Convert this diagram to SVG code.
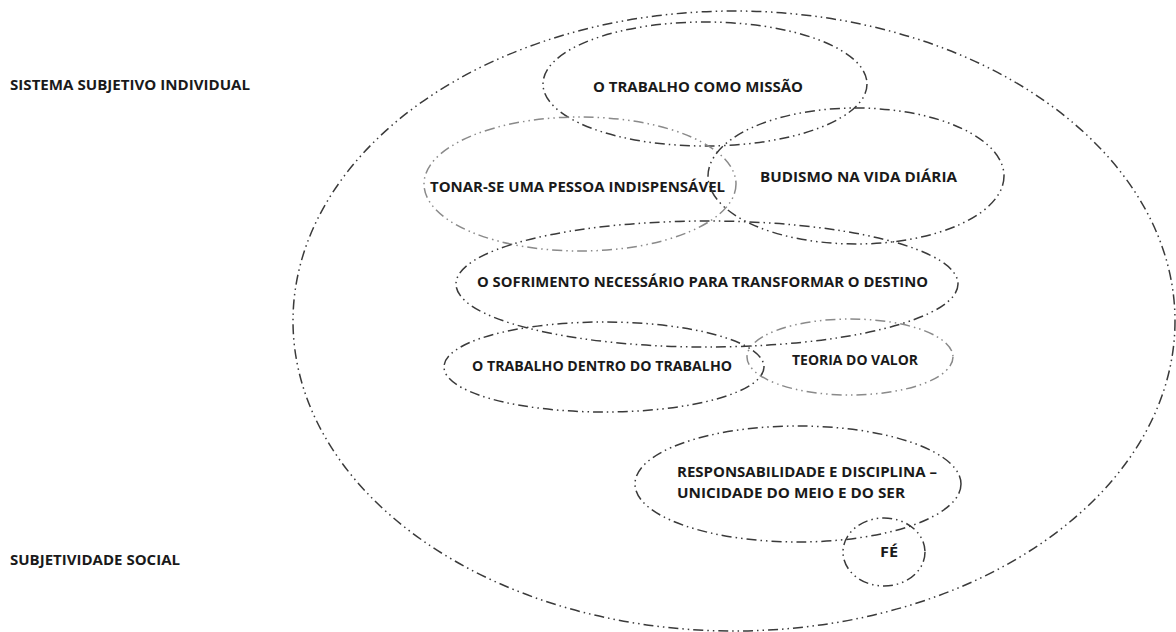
<svg xmlns="http://www.w3.org/2000/svg" width="1176" height="632" viewBox="0 0 1176 632">
<style>
.e{fill:none;stroke:#3a3a3a;stroke-width:1.5;stroke-dasharray:10 4 1.5 4 1.5 4}
.l{stroke:#8a8a8a}
.t{font-family:"Open Sans",Lato,"Liberation Sans",sans-serif;font-weight:bold;font-size:13.5px;fill:#1a1a1a}
</style>
<rect width="1176" height="632" fill="#fff"/>
<g id="labels">
<text class="t" x="10" y="90" textLength="240" lengthAdjust="spacingAndGlyphs">SISTEMA SUBJETIVO INDIVIDUAL</text>
<text class="t" x="10" y="565" textLength="170" lengthAdjust="spacingAndGlyphs">SUBJETIVIDADE SOCIAL</text>
</g>
<g id="outer"><ellipse class="e" cx="734" cy="321" rx="441" ry="310"/></g>
<g id="n1"><ellipse class="e" cx="705" cy="84" rx="162" ry="62"/><text class="t" x="593" y="92" textLength="210" lengthAdjust="spacingAndGlyphs">O TRABALHO COMO MISSÃO</text></g>
<g id="n2"><ellipse class="e l" cx="580" cy="184" rx="156" ry="67"/><text class="t" x="430" y="192" textLength="295" lengthAdjust="spacingAndGlyphs">TONAR-SE UMA PESSOA INDISPENSÁVEL</text></g>
<g id="n3"><ellipse class="e" cx="856" cy="176" rx="148" ry="68"/><text class="t" x="760" y="182" textLength="197" lengthAdjust="spacingAndGlyphs">BUDISMO NA VIDA DIÁRIA</text></g>
<g id="n4"><ellipse class="e" cx="707" cy="284" rx="251" ry="63"/><text class="t" x="477" y="287" textLength="451" lengthAdjust="spacingAndGlyphs">O SOFRIMENTO NECESSÁRIO PARA TRANSFORMAR O DESTINO</text></g>
<g id="n5"><ellipse class="e" cx="604" cy="367" rx="160" ry="45"/><text class="t" x="472" y="371" textLength="260" lengthAdjust="spacingAndGlyphs">O TRABALHO DENTRO DO TRABALHO</text></g>
<g id="n6"><ellipse class="e l" cx="850" cy="357" rx="103" ry="38"/><text class="t" x="792" y="365" textLength="126" lengthAdjust="spacingAndGlyphs">TEORIA DO VALOR</text></g>
<g id="n7"><ellipse class="e" cx="798" cy="484" rx="163" ry="58"/><text class="t" x="677" y="477" textLength="260" lengthAdjust="spacingAndGlyphs">RESPONSABILIDADE E DISCIPLINA –</text><text class="t" x="677" y="498" textLength="228" lengthAdjust="spacingAndGlyphs">UNICIDADE DO MEIO E DO SER</text></g>
<g id="n8"><ellipse class="e" cx="884" cy="552" rx="41" ry="34"/><text class="t" x="880" y="557" textLength="18" lengthAdjust="spacingAndGlyphs">FÉ</text></g>
<g id="connectors"></g>
</svg>
